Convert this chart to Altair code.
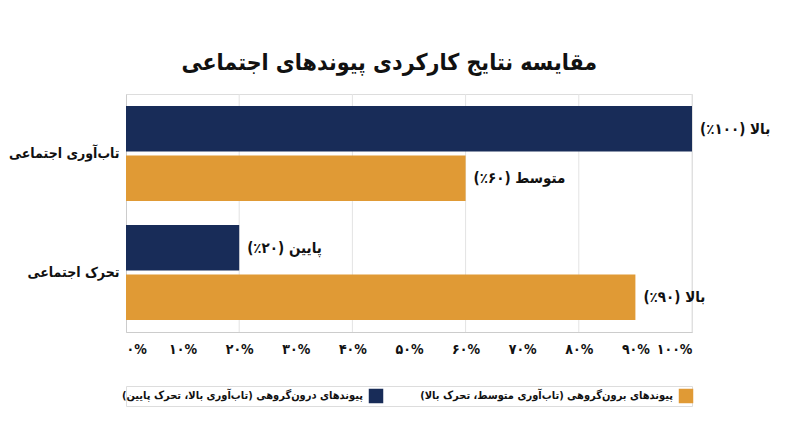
import pandas as pd
import altair as alt

FONT = "DejaVu Sans Condensed"
NAVY = "#182c58"
ORANGE = "#e09a35"

# data
categories = ["تاب\u200cآوری اجتماعی", "تحرک اجتماعی"]
series = ["درون\u200cگروهی", "برون\u200cگروهی"]
values_in = [100, 20]
values_out = [60, 90]
labels_in = ["بالا (۱۰۰٪)", "پایین (۲۰٪)"]
labels_out = ["متوسط (۶۰٪)", "بالا (۹۰٪)"]
legend_labels = [
    "پیوندهای درون\u200cگروهی (تاب\u200cآوری بالا، تحرک پایین)",
    "پیوندهای برون\u200cگروهی (تاب\u200cآوری متوسط، تحرک بالا)",
]
x_ticks = [0, 10, 20, 30, 40, 50, 60, 70, 80, 90, 100]
x_tick_labels = ["۰%", "۱۰%", "۲۰%", "۳۰%", "۴۰%", "۵۰%", "۶۰%", "۷۰%", "۸۰%", "۹۰%", "۱۰۰%"]
grid_values = [20, 40, 60, 80, 100]

rows = []
for i, c in enumerate(categories):
    rows.append({"cat": c, "series": series[0], "value": values_in[i], "label": labels_in[i]})
    rows.append({"cat": c, "series": series[1], "value": values_out[i], "label": labels_out[i]})
df = pd.DataFrame(rows)

# persian digits on the x axis
label_expr = "[" + ",".join(f"'{t}'" for t in x_tick_labels) + "][datum.value / 10]"

color_scale = alt.Scale(domain=series, range=[NAVY, ORANGE])

base = alt.Chart(df).encode(
    y=alt.Y("cat:N", sort=categories, title=None,
            scale=alt.Scale(paddingInner=0.2, paddingOuter=0.1),
            axis=alt.Axis(labelFont=FONT, labelFontSize=14, labelFontWeight="bold",
                          labelColor="#111", labelPadding=7, ticks=False, domain=True,
                          domainColor="#cccccc", minExtent=110, maxExtent=110,
                          labelLimit=200)),
    yOffset=alt.YOffset("series:N", sort=series, scale=alt.Scale(paddingInner=0.08)),
)

bars = base.mark_bar().encode(
    x=alt.X("value:Q", scale=alt.Scale(domain=[0, 100], nice=False), title=None,
            axis=alt.Axis(values=x_ticks, labelExpr=label_expr, grid=False, ticks=False,
                          labelFont=FONT, labelFontSize=14, labelFontWeight="bold",
                          labelColor="#111", labelPadding=10, domainColor="#cccccc")),
    color=alt.Color("series:N", scale=color_scale, legend=None),
)

texts = base.mark_text(align="left", dx=8, font=FONT, fontSize=15,
                       fontWeight="bold", color="#111").encode(
    x="value:Q",
    text="label:N",
)

grid = alt.Chart(pd.DataFrame({"g": grid_values})).mark_rule(
    color="#e3e3e3", strokeWidth=1
).encode(x="g:Q")

main = (grid + bars + texts).properties(width=566, height=238)

# right-to-left legend: swatch on the right of its text
leg_df = pd.DataFrame({"series": series, "text": legend_labels})
leg_x = alt.X("series:N", sort=series, axis=None,
              scale=alt.Scale(type="point", range=[250, 560], padding=0))
leg_sq = alt.Chart(leg_df).mark_square(size=210, opacity=1).encode(
    x=leg_x, y=alt.value(10),
    color=alt.Color("series:N", scale=color_scale, legend=None),
)
leg_txt = alt.Chart(leg_df).mark_text(align="right", dx=-13, font=FONT, fontSize=11,
                                      fontWeight="bold", color="#111").encode(
    x=leg_x, y=alt.value(10), text="text:N",
)
legend = (leg_sq + leg_txt).properties(width=566, height=20)

chart = alt.vconcat(main, legend, spacing=28).properties(
    title=alt.TitleParams("مقایسه نتایج کارکردی پیوندهای اجتماعی", font=FONT,
                          fontSize=23, fontWeight="bold", color="#111",
                          anchor="middle", offset=18),
    padding={"left": 0, "top": 44, "right": 5, "bottom": 5},
).configure_view(stroke="transparent", strokeWidth=0).configure(background="white")

chart.save("out.html", embed_options={"renderer": "svg", "actions": False})
